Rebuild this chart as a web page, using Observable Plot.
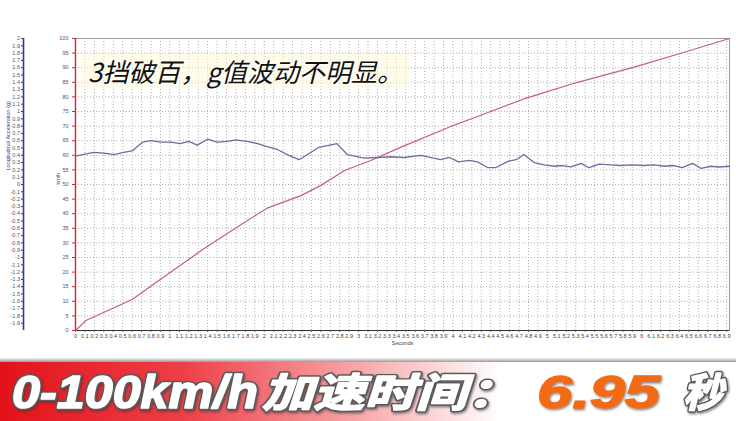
<!DOCTYPE html>
<html><head><meta charset="utf-8">
<script src="https://cdn.jsdelivr.net/npm/d3@7"></script>
<script src="https://cdn.jsdelivr.net/npm/@observablehq/plot@0.6"></script>
<style>
body{margin:0;background:#fff;width:736px;height:421px;overflow:hidden;position:relative;font-family:"Liberation Sans",Arial,sans-serif}
#chart{position:absolute;left:0;top:0}
#title{position:absolute;left:82px;top:54px;height:34px;line-height:34px;padding:0 6px;font-family:"Noto Sans CJK SC",sans-serif;font-size:26px;font-style:italic;color:#111;background:rgba(255,252,215,0.55);text-shadow:0 0 3px #fff,0 0 2px #fff;white-space:nowrap}
#banner{position:absolute;left:0;top:358px}
</style></head><body>
<div id="chart"></div>
<div id="title">3挡破百，g值波动不明显。</div>
<svg id="banner" width="736" height="63" viewBox="0 0 736 63">
<defs>
<linearGradient id="bg" x1="0" x2="1" y1="0" y2="0">
<stop offset="0" stop-color="#e3121a"/>
<stop offset="0.25" stop-color="#ee4048"/>
<stop offset="0.48" stop-color="#f7a4a6"/>
<stop offset="0.68" stop-color="#ffffff"/>
<stop offset="1" stop-color="#ffffff"/>
</linearGradient>
<linearGradient id="sh" x1="0" x2="0" y1="0" y2="1">
<stop offset="0" stop-color="#f4f4f4"/>
<stop offset="1" stop-color="#9a9a9a"/>
</linearGradient>
<filter id="ds" x="-5%" y="-20%" width="110%" height="140%"><feDropShadow dx="1" dy="1.5" stdDeviation="0.8" flood-color="#333" flood-opacity="0.6"/></filter>
</defs>
<rect x="0" y="0" width="736" height="4" fill="url(#sh)"/>
<rect x="0" y="4" width="736" height="59" fill="url(#bg)"/>
<g filter="url(#ds)" font-weight="bold" font-style="italic" stroke-linejoin="round">
<g stroke="#5a5a5a" stroke-width="4.5" fill="#5a5a5a">
<text x="12" y="50" font-family="Liberation Sans, Arial, sans-serif" font-size="46" textLength="246" lengthAdjust="spacingAndGlyphs">0-100km/h</text>
<text x="262" y="49" font-family="Noto Sans CJK SC, sans-serif" font-size="40" textLength="256" lengthAdjust="spacingAndGlyphs">加速时间：</text>
<text x="683" y="49" font-family="Noto Sans CJK SC, sans-serif" font-size="40" textLength="40" lengthAdjust="spacingAndGlyphs">秒</text>
</g>
<g stroke="#fff" stroke-width="1.6" fill="#fff">
<text x="12" y="50" font-family="Liberation Sans, Arial, sans-serif" font-size="46" textLength="246" lengthAdjust="spacingAndGlyphs">0-100km/h</text>
<text x="262" y="49" font-family="Noto Sans CJK SC, sans-serif" font-size="40" textLength="256" lengthAdjust="spacingAndGlyphs">加速时间：</text>
<text x="683" y="49" font-family="Noto Sans CJK SC, sans-serif" font-size="40" textLength="40" lengthAdjust="spacingAndGlyphs">秒</text>
</g>
<text x="537" y="50" font-family="Liberation Sans, Arial, sans-serif" font-size="46" fill="#f26a14" stroke="#f26a14" stroke-width="1.4" textLength="123" lengthAdjust="spacingAndGlyphs">6.95</text>
</g>
</svg>
<script>
// Vehicle speed (km/h) vs time (s)
const speedT   = [0, 0.11, 0.60, 1.01, 1.36, 1.71, 2.03, 2.39, 2.60, 2.85, 3.13, 3.45, 3.97, 4.26, 4.75, 5.32, 5.92, 6.45, 6.93];
const speedKmh = [0, 3.4, 10.6, 20, 28, 35.4, 41.9, 46.2, 49.7, 54.8, 58.2, 62.8, 69.8, 73.3, 79.3, 85, 90.2, 95.3, 100];
// Longitudinal acceleration (g) vs time (s)
const accT = [0, 0.19, 0.30, 0.41, 0.51, 0.60, 0.71, 0.80, 0.90, 1.01, 1.11, 1.20, 1.29, 1.40, 1.50, 1.61, 1.70, 1.82, 1.93, 2.03, 2.14, 2.26, 2.37, 2.58, 2.77, 2.88, 3.06, 3.20, 3.34, 3.48, 3.66, 3.76, 3.87, 3.96, 4.06, 4.17, 4.26, 4.37, 4.45, 4.59, 4.67, 4.75, 4.86, 4.97, 5.07, 5.16, 5.25, 5.36, 5.44, 5.55, 5.67, 5.78, 5.89, 6.03, 6.13, 6.24, 6.34, 6.43, 6.54, 6.63, 6.73, 6.82, 6.93];
const accG = [0.39, 0.44, 0.43, 0.41, 0.44, 0.46, 0.58, 0.60, 0.58, 0.58, 0.56, 0.59, 0.54, 0.62, 0.58, 0.59, 0.61, 0.59, 0.56, 0.52, 0.48, 0.40, 0.34, 0.51, 0.56, 0.41, 0.36, 0.37, 0.38, 0.37, 0.40, 0.37, 0.34, 0.37, 0.31, 0.33, 0.31, 0.23, 0.23, 0.32, 0.34, 0.41, 0.30, 0.27, 0.25, 0.26, 0.24, 0.29, 0.23, 0.28, 0.27, 0.26, 0.27, 0.26, 0.27, 0.25, 0.26, 0.23, 0.29, 0.22, 0.25, 0.24, 0.25];
// Tick values
const kmhTicks = [0,5,10,15,20,25,30,35,40,45,50,55,60,65,70,75,80,85,90,95,100];
const gTicks = d3.range(-19, 21).map(i => i / 10);
const secTicks = d3.range(0, 70).map(i => i / 10);

const gToKmh = g => 50 + 25 * g;
const fmt = v => String(+(+v).toFixed(1));
const speed = speedT.map((t, i) => ({t, v: speedKmh[i]}));
const acc = accT.map((t, i) => ({t, g: accG[i]}));

const chart = Plot.plot({
  width: 736, height: 358,
  marginLeft: 75, marginRight: 7, marginTop: 38, marginBottom: 28,
  x: {domain: [0, 6.93]},
  y: {domain: [0, 100]},
  style: {fontFamily: "Liberation Sans, Arial, sans-serif", fontSize: "5.5px", color: "#444", background: "transparent", overflow: "visible"},
  marks: [
    Plot.gridX(secTicks.slice(1), {stroke: "#b0b0b0", strokeOpacity: 1, strokeDasharray: "1,2"}),
    Plot.gridY(kmhTicks.slice(1), {stroke: "#b0b0b0", strokeOpacity: 1, strokeDasharray: "1,2"}),
    Plot.frame({stroke: "#9a9a9a"}),
    Plot.ruleY([0], {stroke: "#333"}),
    Plot.ruleX([0], {stroke: "#e0202a", strokeWidth: 1.4}),
    Plot.axisY(kmhTicks, {anchor: "left", tickSize: 3, tickPadding: 4, stroke: "#e0202a", fill: "#555", label: null, tickFormat: d => d}),
    Plot.ruleX([0], {y1: gToKmh(-2), y2: gToKmh(2), dx: -52, stroke: "#33389a", strokeWidth: 1.6}),
    Plot.axisY(gTicks.map(gToKmh), {anchor: "left", dx: -52, tickSize: 2, tickPadding: 1.5, stroke: "#33389a", fill: "#555", label: null, tickFormat: v => fmt((v - 50) / 25)}),
    Plot.axisX(secTicks, {anchor: "bottom", tickSize: 2, tickPadding: 1.5, stroke: "#666", fill: "#444", label: null, tickFormat: fmt}),
    Plot.text(["Seconds"], {frameAnchor: "bottom", dy: 14, fill: "#444"}),
    Plot.text(["km/h"], {frameAnchor: "left", dx: -17, rotate: -90, fill: "#555"}),
    Plot.text(["Longitudinal Acceleration (g)"], {frameAnchor: "left", dx: -67, dy: -14, rotate: -90, fill: "#3a3f9a"}),
    Plot.line(speed, {x: "t", y: "v", stroke: "#c25f7c", strokeWidth: 1.2}),
    Plot.line(acc, {x: "t", y: d => gToKmh(d.g), stroke: "#6a6e9c", strokeWidth: 1.3})
  ]
});
document.getElementById("chart").appendChild(chart);
</script>
</body></html>
